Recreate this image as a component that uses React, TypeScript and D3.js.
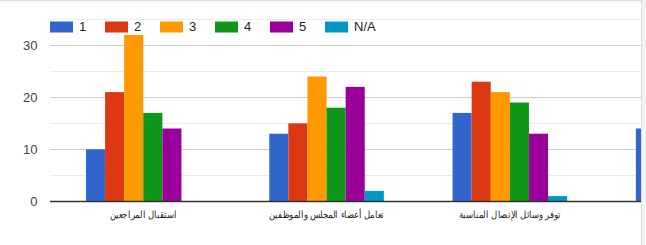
import React from "react";
import * as d3 from "d3";

const categories = [
  "استقبال المراجعين",
  "تعامل أعضاء المجلس والموظفين",
  "توفر وسائل الإتصال المناسبة",
  "",
];
const seriesKeys = ["1", "2", "3", "4", "5", "N/A"];
const s1 = [10, 13, 17, 14];
const s2 = [21, 15, 23, 20];
const s3 = [32, 24, 21, 22];
const s4 = [17, 18, 19, 18];
const s5 = [14, 22, 13, 12];
const sNA = [0, 2, 1, 1];
const seriesValues = [s1, s2, s3, s4, s5, sNA];
const colors = ["#3366cc", "#dc3912", "#ff9900", "#109618", "#990099", "#0099c6"];
const majorTicks = [0, 10, 20, 30];
const minorTicks = [5, 15, 25, 35];

const W = 646;
const H = 245;

export default function App() {
  const plotLeft = 50;
  const plotRight = 641;
  const y = d3.scaleLinear().domain([0, 35]).range([201.3, 19.3]);
  const x0 = d3
    .scaleBand<string>()
    .domain(categories.map((_, i) => String(i)))
    .range([51.6, 51.6 + 183.3 * 4])
    .paddingInner(0.375)
    .paddingOuter(0.1875);
  const x1 = d3.scaleBand<string>().domain(seriesKeys).range([0, x0.bandwidth()]);

  return (
    <svg
      width={W}
      height={H}
      style={{ position: "absolute", left: 0, top: 0, fontFamily: "Arial, 'Liberation Sans', sans-serif" }}
    >
      <rect x={0} y={0} width={W} height={H} fill="#ffffff" />
      <defs>
        <clipPath id="plotclip">
          <rect x={plotLeft} y={0} width={plotRight - plotLeft} height={H} />
        </clipPath>
      </defs>
      {minorTicks.map((t) => (
        <line key={"m" + t} x1={plotLeft} x2={plotRight} y1={Math.round(y(t)) + 0.5} y2={Math.round(y(t)) + 0.5} stroke="#ebebeb" strokeWidth={1} />
      ))}
      {majorTicks.slice(1).map((t) => (
        <line key={"M" + t} x1={plotLeft} x2={plotRight} y1={Math.round(y(t)) + 0.5} y2={Math.round(y(t)) + 0.5} stroke="#cccccc" strokeWidth={1} />
      ))}
      {majorTicks.map((t) => (
        <text key={"t" + t} x={37.5} y={y(t) + 4.7} textAnchor="end" fontSize={13} fill="#444444">
          {t}
        </text>
      ))}
      <g clipPath="url(#plotclip)">
        {categories.map((c, ci) => (
          <g key={ci} transform={`translate(${x0(String(ci))},0)`}>
            {seriesKeys.map((k, si) => {
              const v = seriesValues[si][ci];
              if (!v) return null;
              return (
                <rect
                  key={k}
                  x={x1(k)}
                  y={y(v)}
                  width={x1.bandwidth()}
                  height={y(0) - y(v)}
                  fill={colors[si]}
                />
              );
            })}
          </g>
        ))}
      </g>
      <line x1={plotLeft} x2={plotRight} y1={201.5} y2={201.5} stroke="#333333" strokeWidth={1.3} />
      {categories.map((c, ci) =>
        c ? (
          <g key={"c" + ci} transform={`translate(${(x0(String(ci)) as number) + x0.bandwidth() / 2},217.5) scale(0.85,1)`}>
            <text x={0} y={0} textAnchor="middle" fontSize={10} fill="#222222">
              {c}
            </text>
          </g>
        ) : null
      )}
      {seriesKeys.map((k, i) => (
        <g key={"lg" + k} transform={`translate(${50 + i * 55},21.5)`}>
          <rect x={0} y={0} width={23} height={11} fill={colors[i]} />
          <text x={29} y={9.8} fontSize={13} fill="#222222">
            {k}
          </text>
        </g>
      ))}
      <line x1={0} x2={642} y1={0.5} y2={0.5} stroke="#dddddd" strokeWidth={1.5} />
      <rect x={641} y={0} width={5} height={H} fill="#f4f4f4" />
      <line x1={641.5} x2={641.5} y1={0} y2={H} stroke="#e0e0e0" strokeWidth={1} />
    </svg>
  );
}
